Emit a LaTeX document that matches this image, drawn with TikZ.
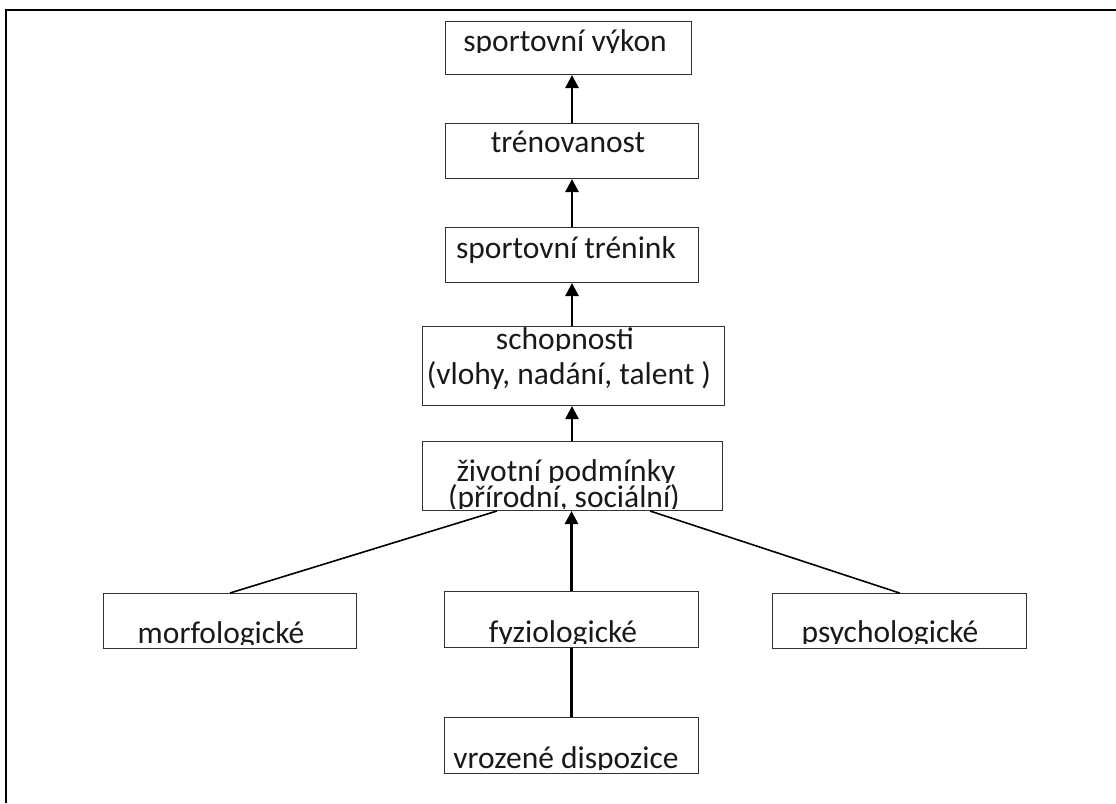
\documentclass[tikz,border=0pt]{standalone}
\usepackage{fontspec}
\setmainfont{Carlito}
\usetikzlibrary{arrows.meta}
\newcommand\cutlbl[4]{% name, x, baseline y, text (clipped just below baseline)
  \begin{scope}
    \clip (#2-200,#3+1.5) rectangle (#2+200,#3-45);
    \node[txt] (#1) at (#2,#3) {#4};
  \end{scope}}
\begin{document}
\begin{tikzpicture}[x=1pt,y=-1pt,
  box/.style={draw=black!80, line width=1pt, inner sep=0pt, anchor=north west},
  txt/.style={font=\fontsize{31.5}{36}\selectfont, inner sep=0pt, anchor=base, text=black!90},
  arr/.style={line width=2.6pt, -{Triangle[length=13pt,width=13pt]}},
  ln/.style={line width=1.6pt}]
\useasboundingbox (0,0) rectangle (1116,803);
\draw[line width=2pt] (6,803) -- (6,10) -- (1116,10);

% boxes
\node[box, minimum width=246pt, minimum height=53pt] (vykon)   at (445,21)  {};
\node[box, minimum width=253pt, minimum height=55pt] (tren)    at (445,123) {};
\node[box, minimum width=253pt, minimum height=55pt] (trenink) at (445,227) {};
\node[box, minimum width=302pt, minimum height=79pt] (schop)   at (422,326) {};
\node[box, minimum width=300pt, minimum height=69pt] (zivot)   at (422,441) {};
\node[box, minimum width=253pt, minimum height=55pt] (morf)    at (103,593) {};
\node[box, minimum width=254pt, minimum height=56pt] (fyz)     at (444,591) {};
\node[box, minimum width=254pt, minimum height=55pt] (psych)   at (772,593) {};
\node[box, minimum width=254pt, minimum height=56pt] (vroz)    at (444,717) {};

% texts
\cutlbl{vykon-t}{565}{51}{sportovní výkon}
\node[txt] (tren-t) at (568,152) {trénovanost};
\node[txt] (trenink-t) at (566,258) {sportovní trénink};
\cutlbl{schop-t}{565}{349}{schopnosti}
\node[txt] (schop-t2) at (569,384) {(vlohy, nadání, talent )};
\cutlbl{zivot-t}{566}{481}{životní podmínky}
\cutlbl{zivot-t2}{564}{507}{(přírodní, sociální)}
\cutlbl{morf-t}{221}{643}{morfologické}
\cutlbl{fyz-t}{563}{642}{fyziologické}
\cutlbl{psych-t}{890}{642}{psychologické}
\cutlbl{vroz-t}{566}{768}{vrozené dispozice}

% connectors
\coordinate (zl) at (497,511);
\coordinate (zr) at (650,511);
\draw[arr] (tren.north) -- (tren.north |- vykon.south);
\draw[arr] (trenink.north) -- (tren.south);
\draw[arr] (trenink.north |- schop.north) -- (trenink.south);
\draw[arr] (trenink.north |- zivot.north) -- (trenink.north |- schop.south);
\draw[arr] (fyz.north) -- (fyz.north |- zivot.south);
\draw[line width=2.6pt] (fyz.south) -- (vroz.north);
\draw[ln] (morf.north) -- (zl);
\draw[ln] (psych.north) -- (zr);
\end{tikzpicture}
\end{document}
